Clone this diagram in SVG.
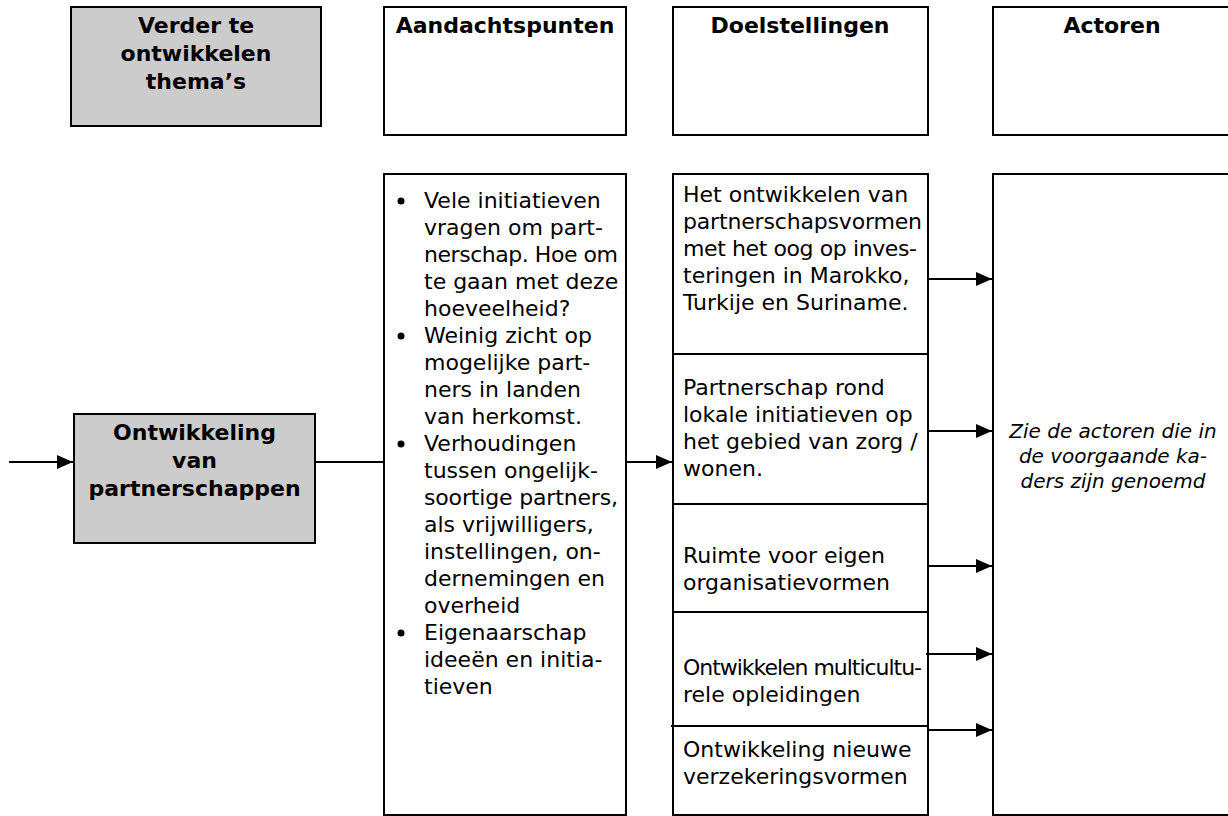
<svg xmlns="http://www.w3.org/2000/svg" width="1228" height="816" viewBox="0 0 1228 816">
<style>
.box{fill:#fff;stroke:#000;stroke-width:2}
.grey{fill:#ccc}
.t{font-family:"DejaVu Sans",Verdana,sans-serif;font-size:22px;fill:#000}
.b{font-weight:bold}
.c{text-anchor:middle}
.i{font-style:italic;font-size:20px}
.div{stroke:#000;stroke-width:2}
.con{stroke:#000;stroke-width:2;fill:none}
</style>
<defs>
<marker id="arr" viewBox="0 0 16 14" refX="16" refY="7" markerWidth="16" markerHeight="14" markerUnits="userSpaceOnUse" orient="auto">
<path d="M0,0 L16,7 L0,14 z" fill="#000"/>
</marker>
</defs>
<rect width="1228" height="816" fill="#fff"/>

<g id="hdr-themas">
<rect class="box grey" x="71" y="7" width="250" height="119"/>
<text class="t b c" x="196" y="33">Verder te</text>
<text class="t b c" x="196" y="61">ontwikkelen</text>
<text class="t b c" x="196" y="89">thema’s</text>
</g>
<g id="hdr-aandachtspunten">
<rect class="box" x="384" y="7" width="242" height="128"/>
<text class="t b c" x="505" y="33">Aandachtspunten</text>
</g>
<g id="hdr-doelstellingen">
<rect class="box" x="673" y="7" width="255" height="128"/>
<text class="t b c" x="800" y="33">Doelstellingen</text>
</g>
<g id="hdr-actoren">
<rect class="box" x="993" y="7" width="250" height="128"/>
<text class="t b c" x="1112" y="33">Actoren</text>
</g>

<g id="thema">
<rect class="box grey" x="74" y="414" width="241" height="129"/>
<text class="t b c" x="194.5" y="440">Ontwikkeling</text>
<text class="t b c" x="194.5" y="468">van</text>
<text class="t b c" x="194.5" y="496">partnerschappen</text>
</g>

<g id="aandachtspunten">
<rect class="box" x="384" y="174" width="242" height="641"/>
<g class="t">
<circle cx="401" cy="201" r="3.5"/>
<text x="424" y="208">Vele initiatieven</text>
<text x="424" y="235">vragen om part-</text>
<text x="424" y="262" textLength="194" lengthAdjust="spacing">nerschap. Hoe om</text>
<text x="424" y="289">te gaan met deze</text>
<text x="424" y="316">hoeveelheid?</text>
<circle cx="401" cy="336" r="3.5"/>
<text x="424" y="343">Weinig zicht op</text>
<text x="424" y="370">mogelijke part-</text>
<text x="424" y="397">ners in landen</text>
<text x="424" y="424">van herkomst.</text>
<circle cx="401" cy="444" r="3.5"/>
<text x="424" y="451">Verhoudingen</text>
<text x="424" y="478">tussen ongelijk-</text>
<text x="424" y="505" textLength="194" lengthAdjust="spacing">soortige partners,</text>
<text x="424" y="532">als vrijwilligers,</text>
<text x="424" y="559">instellingen, on-</text>
<text x="424" y="586">dernemingen en</text>
<text x="424" y="613">overheid</text>
<circle cx="401" cy="633" r="3.5"/>
<text x="424" y="640">Eigenaarschap</text>
<text x="424" y="667">ideeën en initia-</text>
<text x="424" y="694">tieven</text>
</g>
</g>

<g id="doelstellingen">
<rect class="box" x="673" y="174" width="255" height="641"/>
<line class="div" x1="673" y1="354" x2="928" y2="354"/>
<line class="div" x1="673" y1="504" x2="928" y2="504"/>
<line class="div" x1="673" y1="612" x2="928" y2="612"/>
<line class="div" x1="671" y1="726" x2="928" y2="726"/>
<g class="t">
<text x="683" y="202">Het ontwikkelen van</text>
<text x="683" y="229" textLength="239" lengthAdjust="spacing">partnerschapsvormen</text>
<text x="683" y="256" textLength="234" lengthAdjust="spacing">met het oog op inves-</text>
<text x="683" y="283">teringen in Marokko,</text>
<text x="683" y="310">Turkije en Suriname.</text>
<text x="683" y="395">Partnerschap rond</text>
<text x="683" y="422">lokale initiatieven op</text>
<text x="683" y="449">het gebied van zorg /</text>
<text x="683" y="476">wonen.</text>
<text x="683" y="563">Ruimte voor eigen</text>
<text x="683" y="590">organisatievormen</text>
<text x="683" y="675" textLength="239" lengthAdjust="spacing">Ontwikkelen multicultu-</text>
<text x="683" y="702">rele opleidingen</text>
<text x="683" y="757">Ontwikkeling nieuwe</text>
<text x="683" y="784">verzekeringsvormen</text>
</g>
</g>

<g id="actoren">
<rect class="box" x="993" y="174" width="250" height="641"/>
<text class="t i c" x="1113" y="438">Zie de actoren die in</text>
<text class="t i c" x="1113" y="463">de voorgaande ka-</text>
<text class="t i c" x="1113" y="488">ders zijn genoemd</text>
</g>

<g id="connectors">
<line class="con" x1="9" y1="462" x2="73" y2="462" marker-end="url(#arr)"/>
<line class="con" x1="315" y1="462" x2="384" y2="462"/>
<line class="con" x1="626" y1="462" x2="672" y2="462" marker-end="url(#arr)"/>
<line class="con" x1="928" y1="279" x2="992" y2="279" marker-end="url(#arr)"/>
<line class="con" x1="928" y1="431" x2="992" y2="431" marker-end="url(#arr)"/>
<line class="con" x1="928" y1="566" x2="992" y2="566" marker-end="url(#arr)"/>
<line class="con" x1="926" y1="654" x2="992" y2="654" marker-end="url(#arr)"/>
<line class="con" x1="928" y1="730" x2="992" y2="730" marker-end="url(#arr)"/>
</g>
</svg>
